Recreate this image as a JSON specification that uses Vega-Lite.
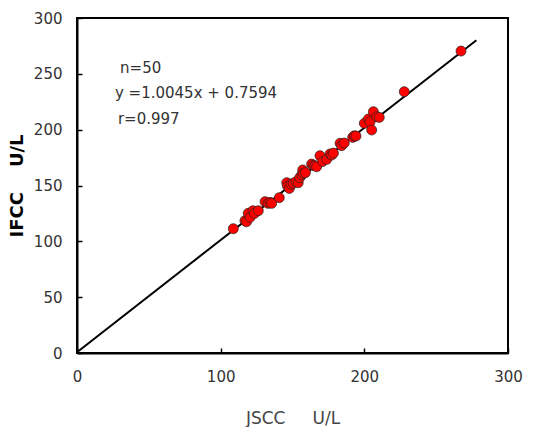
{
  "$schema": "https://vega.github.io/schema/vega-lite/v6.json",
  "autosize": {"type": "none"},
  "width": 431,
  "height": 335,
  "padding": {"left": 77, "top": 18, "right": 37, "bottom": 74},
  "background": "white",
  "config": {
    "view": {"stroke": "black", "strokeWidth": 2},
    "font": "DejaVu Sans",
    "axis": {
      "grid": false,
      "domainColor": "black",
      "domainWidth": 2,
      "tickColor": "black",
      "tickWidth": 1.5,
      "tickSize": -5,
      "labelFlush": false,
      "labelFont": "DejaVu Sans",
      "labelFontSize": 15,
      "labelColor": "#333333",
      "titleFont": "DejaVu Sans"
    }
  },
  "datasets": {
    "points": [
      {"jscc": 108.8, "ifcc": 111.3},
      {"jscc": 116.9, "ifcc": 118.5},
      {"jscc": 118.0, "ifcc": 117.5},
      {"jscc": 119.2, "ifcc": 125.1},
      {"jscc": 120.5, "ifcc": 121.5},
      {"jscc": 122.5, "ifcc": 127.4},
      {"jscc": 123.5, "ifcc": 125.0},
      {"jscc": 126.2, "ifcc": 127.4},
      {"jscc": 130.9, "ifcc": 135.5},
      {"jscc": 133.0, "ifcc": 134.0},
      {"jscc": 134.4, "ifcc": 134.9},
      {"jscc": 135.5, "ifcc": 134.0},
      {"jscc": 140.8, "ifcc": 139.1},
      {"jscc": 146.0, "ifcc": 152.5},
      {"jscc": 146.5, "ifcc": 149.5},
      {"jscc": 147.8, "ifcc": 147.4},
      {"jscc": 149.0, "ifcc": 151.0},
      {"jscc": 150.5, "ifcc": 152.0},
      {"jscc": 152.4, "ifcc": 153.4},
      {"jscc": 154.0, "ifcc": 152.5},
      {"jscc": 155.0, "ifcc": 157.0},
      {"jscc": 156.4, "ifcc": 159.4},
      {"jscc": 157.1, "ifcc": 163.9},
      {"jscc": 157.6, "ifcc": 160.9},
      {"jscc": 159.0, "ifcc": 161.5},
      {"jscc": 163.3, "ifcc": 169.2},
      {"jscc": 164.5, "ifcc": 168.0},
      {"jscc": 165.6, "ifcc": 167.7},
      {"jscc": 166.8, "ifcc": 166.8},
      {"jscc": 169.1, "ifcc": 176.7},
      {"jscc": 171.0, "ifcc": 171.5},
      {"jscc": 173.8, "ifcc": 173.4},
      {"jscc": 176.1, "ifcc": 178.2},
      {"jscc": 177.3, "ifcc": 177.3},
      {"jscc": 178.5, "ifcc": 179.0},
      {"jscc": 183.1, "ifcc": 187.8},
      {"jscc": 184.2, "ifcc": 185.7},
      {"jscc": 186.0, "ifcc": 188.0},
      {"jscc": 191.9, "ifcc": 193.1},
      {"jscc": 193.0, "ifcc": 194.5},
      {"jscc": 194.2, "ifcc": 194.3},
      {"jscc": 200.0, "ifcc": 205.7},
      {"jscc": 202.8, "ifcc": 209.5},
      {"jscc": 204.0, "ifcc": 207.0},
      {"jscc": 205.1, "ifcc": 199.7},
      {"jscc": 206.3, "ifcc": 216.1},
      {"jscc": 208.6, "ifcc": 211.6},
      {"jscc": 210.4, "ifcc": 211.0},
      {"jscc": 227.8, "ifcc": 234.0},
      {"jscc": 267.3, "ifcc": 270.4}
    ],
    "fit": [
      {"jscc": 0, "ifcc": 0.7594},
      {"jscc": 278, "ifcc": 280.0}
    ],
    "notes": [
      {"jscc": 30, "ifcc": 255, "label": "n=50"},
      {"jscc": 26.4, "ifcc": 233, "label": "y =1.0045x + 0.7594"},
      {"jscc": 28.5, "ifcc": 210, "label": "r=0.997"}
    ]
  },
  "encoding": {
    "x": {
      "field": "jscc",
      "type": "quantitative",
      "scale": {"domain": [0, 300], "nice": false, "zero": true},
      "axis": {
        "values": [0, 100, 200, 300],
        "labelPadding": 21,
        "title": "JSCC\u00a0\u00a0\u00a0\u00a0\u00a0U/L",
        "titleFontSize": 17,
        "titleFontWeight": "normal",
        "titleColor": "#444444",
        "titlePadding": 26
      }
    },
    "y": {
      "field": "ifcc",
      "type": "quantitative",
      "scale": {"domain": [0, 300], "nice": false, "zero": true},
      "axis": {
        "values": [0, 50, 100, 150, 200, 250, 300],
        "labelPadding": 20,
        "title": "IFCC\u00a0\u00a0\u00a0\u00a0U/L",
        "titleFontSize": 18,
        "titleFontWeight": "bold",
        "titleColor": "black",
        "titlePadding": 7
      }
    }
  },
  "layer": [
    {
      "data": {"name": "fit"},
      "mark": {"type": "line", "color": "black", "strokeWidth": 2, "clip": true}
    },
    {
      "data": {"name": "points"},
      "mark": {"type": "circle", "size": 100, "fill": "#FF0000", "stroke": "#222222", "strokeWidth": 0.7, "opacity": 1}
    },
    {
      "data": {"name": "notes"},
      "mark": {"type": "text", "align": "left", "baseline": "middle", "fontSize": 15, "color": "#333333", "font": "DejaVu Sans"},
      "encoding": {"text": {"field": "label"}}
    }
  ]
}
